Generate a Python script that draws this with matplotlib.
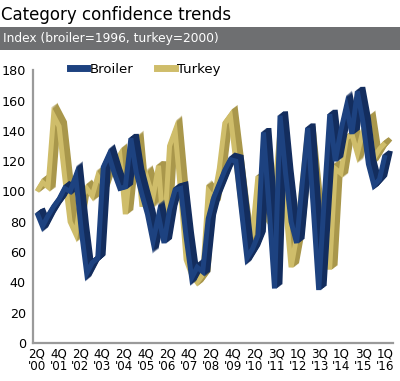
import numpy as np
import matplotlib
matplotlib.use('Agg')
import matplotlib.pyplot as plt
import matplotlib.transforms as mtransforms
from matplotlib.lines import Line2D

# quarterly survey values (2Q '00 .. 1Q '16)
broiler = [86, 77, 84, 90, 95, 102, 100, 110, 75, 46,
           53, 56, 116, 124, 112, 102, 103, 135, 112, 98,
           85, 67, 84, 66, 88, 101, 102, 70, 43, 50,
           47, 82, 96, 105, 114, 121, 120, 88, 56, 62,
           71, 139, 90, 36, 150, 112, 80, 66, 105, 142,
           90, 35, 95, 151, 120, 140, 156, 138, 166, 146,
           118, 104, 108, 124]
turkey = [100, 106, 103, 150, 143, 110, 80, 72, 95, 102,
          97, 110, 104, 115, 118, 124, 85, 120, 130, 90,
          108, 96, 117, 70, 130, 140, 100, 55, 45, 40,
          45, 100, 95, 115, 145, 150, 120, 90, 65, 72,
          110, 85, 80, 100, 140, 90, 50, 70, 105, 140,
          105, 70, 50, 50, 115, 112, 135, 138, 125, 140,
          146, 122, 128, 132]
tick_labels = ["2Q\n'00", "4Q\n'01", "2Q\n'02", "4Q\n'03", "2Q\n'04", "4Q\n'05",
               "2Q\n'06", "4Q\n'07", "2Q\n'08", "4Q\n'09", "2Q\n'10", "3Q\n'11",
               "1Q\n'12", "3Q\n'13", "1Q\n'14", "3Q\n'15", "1Q\n'16"]
y_ticks = [0, 20, 40, 60, 80, 100, 120, 140, 160, 180]

navy, navy_side = '#1d4280', '#132d5e'
gold, gold_side = '#cfbd6a', '#a9974b'

fig = plt.figure(figsize=(4.0, 3.81), dpi=100)
ax = fig.add_axes([0.0825, 0.0997, 0.90, 0.716])


def ribbon(ax, x, y, face, side, depth=6):
    # fake 3d ribbon: stack shifted copies behind the front line
    for k in range(depth, 0, -1):
        tr = mtransforms.offset_copy(ax.transData, fig=fig, x=k * 0.9, y=k * 0.7, units='dots')
        ax.plot(x, y, color=side, lw=3.6, transform=tr, solid_joinstyle='miter', solid_capstyle='butt')
    ax.plot(x, y, color=face, lw=3.6, solid_joinstyle='miter', solid_capstyle='butt')


x = np.arange(len(broiler))
ribbon(ax, x, turkey, gold, gold_side)
ribbon(ax, x, broiler, navy, navy_side)

ax.set_xlim(-0.72, 64.45)
ax.set_ylim(0, 180)
ax.set_yticks(y_ticks)
ax.set_xticks(np.linspace(0, len(broiler) - 1, len(tick_labels)))
ax.set_xticklabels(tick_labels, fontsize=8.6, linespacing=1.0)
ax.tick_params(axis='y', labelsize=9.2, length=0, pad=5)
ax.tick_params(axis='x', length=0, pad=3)
for s in ['top', 'right']:
    ax.spines[s].set_visible(False)
for s in ['left', 'bottom']:
    ax.spines[s].set_color('#9a9a9a')
    ax.spines[s].set_linewidth(1.6)

handles = [Line2D([], [], color=navy, lw=5), Line2D([], [], color=gold, lw=5)]
ax.legend(handles, ['Broiler', 'Turkey'], ncol=2, frameon=False, loc='upper left',
          bbox_to_anchor=(0.07, 1.07), fontsize=9.5, handlelength=1.3,
          handletextpad=0.2, columnspacing=1.8)

# title and grey subtitle band
fig.text(0.003, 0.985, 'Category confidence trends', fontsize=12, va='top', ha='left')
fig.patches.append(plt.Rectangle((0, 1 - 50 / 381), 1, 23 / 381, transform=fig.transFigure,
                                 facecolor='#6e6f71', edgecolor='none'))
fig.text(0.008, 1 - 38.5 / 381, 'Index (broiler=1996, turkey=2000)', fontsize=8.8,
         color='white', va='center', ha='left')

plt.savefig('out.png', dpi=100)
